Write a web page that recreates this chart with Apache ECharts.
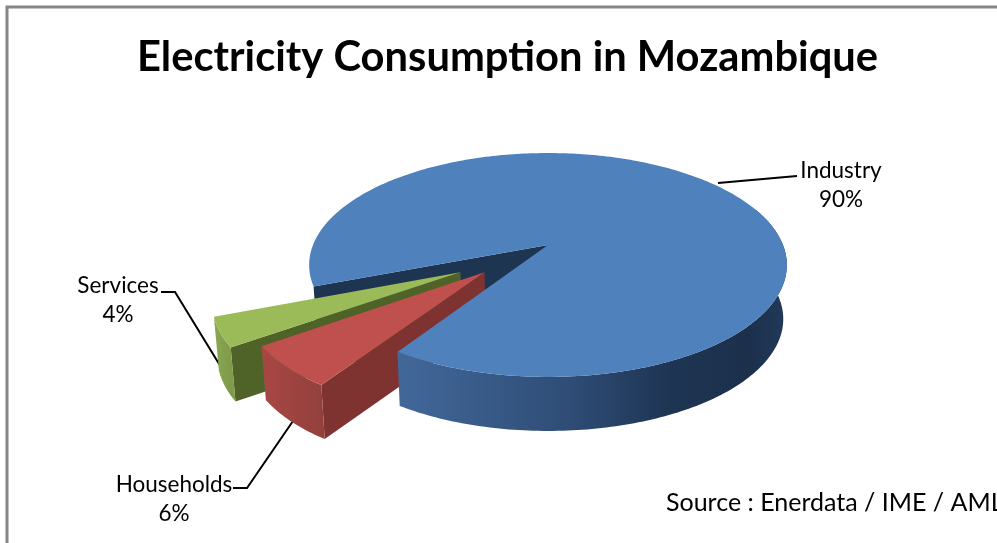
<!DOCTYPE html>
<html>
<head>
<meta charset="utf-8">
<title>Electricity Consumption in Mozambique</title>
<style>
  html, body { margin: 0; padding: 0; background: #fff; overflow: hidden; }
  #chart { width: 997px; height: 543px; }
</style>
<script src="https://cdn.jsdelivr.net/npm/echarts@6/dist/echarts.min.js"></script>
</head>
<body>
<div id="chart"></div>
<script>
// data
const categories = ["Industry", "Households", "Services"];
const shares = [90, 6, 4];

// look of each slice
const topColors = ["#4f81bd", "#c0504d", "#9bbb59"];
const innerColors = ["#1e3552", "#7f3331", "#4f6329"];
const rimStops = [
  [[0, "#42689a"], [0.45, "#2e4c75"], [0.7, "#1e3553"], [0.9, "#1c304c"], [1, "#22395a"]],
  [[0, "#a84744"], [1, "#93403d"]],
  [[0, "#8aa852"], [1, "#7f9a49"]]
];

// layout of the exploded slices, angles in degrees, clockwise on screen
const startAngle = 159;
const explodeAngle = [0, 137, 146];
const explodeDist = [0, 0.353, 0.43];
const sliceRadius = [1, 0.965, 0.98];
const wallFrom = [340, 0, 0]; // only the front part of the big slice needs a wall
const innerZ = [1, 6, 4];
const rimZ = [10, 6, 4];
const topZ = [11, 7, 5];

const labelPos = [[841, 185], [174, 499], [118, 300]];
const leaders = [
  [[718, 183], [797, 176]],
  [[233, 488], [247, 488], [293, 421]],
  [[161, 292], [175, 292], [232, 385]]
];

// perspective of the pie plane
const cx = 548, cy = 245;
const persp = 0.1786, scaleX = 235, scaleY = 108.4;
const depth = 54, baseShrink = 0.985;

const toRad = d => d * Math.PI / 180;
const project = (X, Z) => {
  const w = 1 - persp * Z;
  return [cx + scaleX * X / w, cy + scaleY * Z / w];
};
const lower = p => [cx + (p[0] - cx) * baseShrink, p[1] + depth];

const total = shares.reduce((sum, v) => sum + v, 0);

const renderSlice = (params, api) => {
  const i = params.dataIndex;
  const before = shares.slice(0, i).reduce((sum, v) => sum + v, 0);
  const a0 = startAngle + before / total * 360;
  const a1 = a0 + api.value(0) / total * 360;

  const ax = explodeDist[i] * Math.cos(toRad(explodeAngle[i]));
  const az = explodeDist[i] * Math.sin(toRad(explodeAngle[i]));
  const r = sliceRadius[i];
  const rimAt = a => project(ax + r * Math.cos(toRad(a)), az + r * Math.sin(toRad(a)));
  const arc = (from, to) => {
    const pts = [];
    for (let a = from; a < to; a += 1) pts.push(rimAt(a));
    pts.push(rimAt(to));
    return pts;
  };

  const apex = project(ax, az);
  const topRim = arc(a0, a1);
  const wallRim = arc(Math.max(a0, wallFrom[i]), a1);
  const xs = wallRim.map(p => p[0]);
  const bottomRim = wallRim.map(lower).reverse();
  const innerEnd = rimAt(a0);

  const children = [
    {
      type: "polygon",
      z2: innerZ[i],
      shape: { points: [apex, innerEnd, lower(innerEnd), lower(apex)] },
      style: { fill: innerColors[i] }
    },
    {
      type: "polygon",
      z2: rimZ[i],
      shape: { points: wallRim.concat(bottomRim) },
      style: {
        fill: new echarts.graphic.LinearGradient(
          Math.min(...xs), 0, Math.max(...xs), 0,
          rimStops[i].map(s => ({ offset: s[0], color: s[1] })),
          true
        )
      }
    },
    {
      type: "polygon",
      z2: topZ[i],
      shape: { points: [apex].concat(topRim) },
      style: { fill: topColors[i] }
    },
    {
      type: "polyline",
      z2: 0,
      shape: { points: leaders[i] },
      style: { stroke: "#000", lineWidth: 2, fill: "none" }
    },
    {
      type: "text",
      z2: 20,
      style: {
        text: api.value(1) + "\n" + api.value(0) + "%",
        x: labelPos[i][0],
        y: labelPos[i][1],
        align: "center",
        verticalAlign: "middle",
        font: "22.5px Lato",
        lineHeight: 29,
        fill: "#000"
      }
    }
  ];
  return { type: "group", children };
};

const chart = echarts.init(document.getElementById("chart"), null, { renderer: "canvas" });
chart.setOption({
  animation: false,
  backgroundColor: "#fff",
  title: {
    text: "Electricity Consumption in Mozambique",
    left: 502.5,
    top: 32,
    textAlign: "center",
    textStyle: { fontFamily: "Lato", fontWeight: "bold", fontSize: 41.7, color: "#000" }
  },
  graphic: [
    // chart frame, cut by the right and bottom of the picture
    {
      type: "polyline",
      shape: { points: [[7, 543], [7, 7], [997, 7]] },
      style: { stroke: "#868686", lineWidth: 3, fill: "none" }
    },
    {
      type: "text",
      left: 666,
      top: 490,
      style: { text: "Source : Enerdata / IME / AML", font: "25px Lato", fill: "#000" }
    }
  ],
  series: [
    {
      type: "custom",
      coordinateSystem: "none",
      silent: true,
      renderItem: renderSlice,
      data: categories.map((name, i) => [shares[i], name])
    }
  ]
});
</script>
</body>
</html>
